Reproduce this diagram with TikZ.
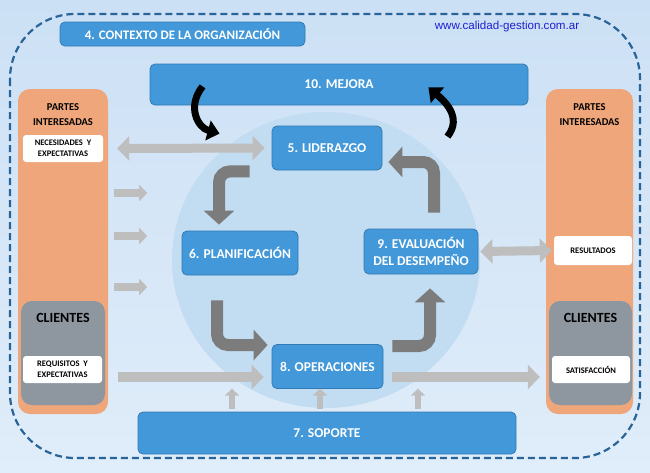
\documentclass[tikz,border=0pt]{standalone}
\usepackage{fontspec}
\setmainfont{Carlito}
\newfontfamily\urlfont{Liberation Sans}
\usepackage{tikz}
\usetikzlibrary{arrows.meta,positioning,calc,shapes.geometric}

\definecolor{boxblue}{RGB}{66,152,216}
\definecolor{boxedge}{RGB}{50,122,182}
\definecolor{partes}{RGB}{238,166,122}
\definecolor{cligray}{RGB}{142,150,160}
\definecolor{bgtop}{RGB}{204,224,245}
\definecolor{bgbottom}{RGB}{224,237,250}
\definecolor{circfill}{RGB}{194,220,241}
\definecolor{lightarrow}{RGB}{190,190,190}
\definecolor{darkarrow}{RGB}{124,124,124}
\definecolor{dashblue}{RGB}{40,100,152}
\definecolor{urlblue}{RGB}{30,30,210}

\begin{document}
\begin{tikzpicture}[x=1pt, y=-1pt,
  bluebox/.style={draw=boxedge, line width=0.8pt, fill=boxblue, rounded corners=5pt, text=white, font=\bfseries\fontsize{13.5}{17}\selectfont, align=center, inner sep=0pt},
  partesbox/.style={fill=partes, rounded corners=12pt, inner sep=0pt},
  clibox/.style={fill=cligray, rounded corners=11pt, inner sep=0pt},
  notebox/.style={fill=white, rounded corners=3pt, font=\bfseries\fontsize{8.5}{11}\selectfont, align=center, inner sep=0pt},
  partestxt/.style={font=\bfseries\fontsize{10.5}{14.5}\selectfont, align=center, inner sep=0pt},
  clitxt/.style={font=\bfseries\fontsize{14}{16}\selectfont, inner sep=0pt},
  lightarr/.style={draw=lightarrow, line width=10pt, -{Triangle[length=12pt,width=24pt]}},
  lightdbl/.style={draw=lightarrow, line width=9pt, {Triangle[length=12pt,width=24pt]}-{Triangle[length=12pt,width=24pt]}},
  shortarr/.style={draw=lightarrow, line width=8pt, -{Triangle[length=8pt,width=16pt]}},
  uparr/.style={draw=lightarrow, line width=6pt, -{Triangle[length=7pt,width=14pt]}},
  darkarr/.style={draw=darkarrow, line width=12pt, rounded corners=11pt, -{Triangle[length=14pt,width=30pt]}},
  blackarr/.style={draw=black, line width=7pt, -{Triangle[length=12pt,width=20pt]}}
]
\useasboundingbox (0,0) rectangle (650,472);
\shade[top color=bgtop, bottom color=bgbottom] (0,0) rectangle (650,472);

% outer frame
\draw[dashblue, line width=2.2pt, dash pattern=on 7pt off 4pt, rounded corners=65pt] (10,14) rectangle (640,458);

% header
\node[bluebox, font=\bfseries\fontsize{13}{15}\selectfont, minimum width=245pt, minimum height=24pt] (ctx) at (182.5,34) {4. CONTEXTO DE LA ORGANIZACIÓN};
\node[font=\urlfont\fontsize{11.6}{13}\selectfont, text=urlblue, inner sep=0pt] (url) at (507,26) {www.calidad-gestion.com.ar};
\node[bluebox, minimum width=378pt, minimum height=41pt] (mejora) at (339,84.5) {10. MEJORA};

% partes interesadas, left
\node[partesbox, minimum width=90pt, minimum height=325pt] (pi1) at (63,251.5) {};
\node[partestxt, below=15pt of pi1.north] (pi1t) {PARTES\\INTERESADAS};
\node[notebox, minimum width=80pt, minimum height=27pt] (nec) at (63,148.5) {NECESIDADES~~Y\\EXPECTATIVAS};
\node[clibox, minimum width=84pt, minimum height=104pt] (cli1) at (63,353) {};
\node[clitxt, below=12pt of cli1.north] (cli1t) {CLIENTES};
\node[notebox, minimum width=79pt, minimum height=27pt] (req) at (62.5,369.5) {REQUISITOS~~Y\\EXPECTATIVAS};

% partes interesadas, right
\node[partesbox, minimum width=87pt, minimum height=325pt] (pi2) at (589.5,251.5) {};
\node[partestxt, below=15pt of pi2.north] (pi2t) {PARTES\\INTERESADAS};
\node[notebox, minimum width=78pt, minimum height=29pt] (res) at (593,250.5) {RESULTADOS};
\node[clibox, minimum width=83pt, minimum height=104pt] (cli2) at (590.5,353) {};
\node[clitxt, below=12pt of cli2.north] (cli2t) {CLIENTES};
\node[notebox, minimum width=78pt, minimum height=27pt] (sat) at (591,369.5) {SATISFACCIÓN};

% cycle
\node[ellipse, fill=circfill, minimum width=308pt, minimum height=296pt, inner sep=0pt] (ciclo) at (326,260) {};
\node[bluebox, minimum width=110pt, minimum height=44pt] (lid) at (327,148) {5. LIDERAZGO};
\node[bluebox, minimum width=116pt, minimum height=44pt] (plan) at (240,253) {6. PLANIFICACIÓN};
\node[bluebox, minimum width=114pt, minimum height=45pt] (eval) at (421,251.5) {9. EVALUACIÓN\\DEL DESEMPEÑO};
\node[bluebox, minimum width=111pt, minimum height=44pt] (oper) at (327.5,366.5) {8. OPERACIONES};
\node[bluebox, minimum width=378pt, minimum height=42pt] (sop) at (327,433) {7. SOPORTE};

% inputs and outputs
\draw[lightdbl] ($(nec.east)+(14,0)$) -- ($(lid.west)+(-7,0)$);
\foreach \y in {193,236,287}
  \draw[shortarr] (pi1.east |- 0,\y) ++(6,0) -- ++(33,0);
\draw[lightdbl] ($(eval.east)+(2,0)$) -- ($(res.west)+(-2,0)$);
\draw[lightarr] ($(req.east)+(16,7.5)$) -- ($(oper.west)+(-8,10.5)$);
\draw[lightarr] ($(oper.east)+(9,10.5)$) -- ($(sat.west)+(-12,7.5)$);
\foreach \dx in {-95,-7,91}
  \draw[uparr] ($(sop.north)+(\dx,-3)$) -- ($(sop.north)+(\dx,-23)$);

% PDCA arrows
\draw[darkarr] ($(lid.south west)+(-22,1)$) -| ($(plan.north)+(-21,-6)$);
\draw[darkarr] ($(plan.south)+(-23,25)$) |- ($(oper.west)+(-4,-21.5)$);
\draw[darkarr] ($(oper.east)+(9,-20.5)$) -| ($(eval.south)+(9,14)$);
\draw[darkarr] ($(eval.north)+(13,-16)$) |- ($(lid.east)+(6,14)$);

% improvement
\draw[blackarr] ($(mejora.south west)+(53,-19)$) .. controls +(-16,20) and +(-22,-6) .. ($(lid.north west)+(-52,8)$);
\draw[blackarr] ($(lid.north east)+(65,11)$) .. controls +(16,-20) and +(14,12) .. ($(mejora.south east)+(-100,-18)$);

\end{tikzpicture}
\end{document}
